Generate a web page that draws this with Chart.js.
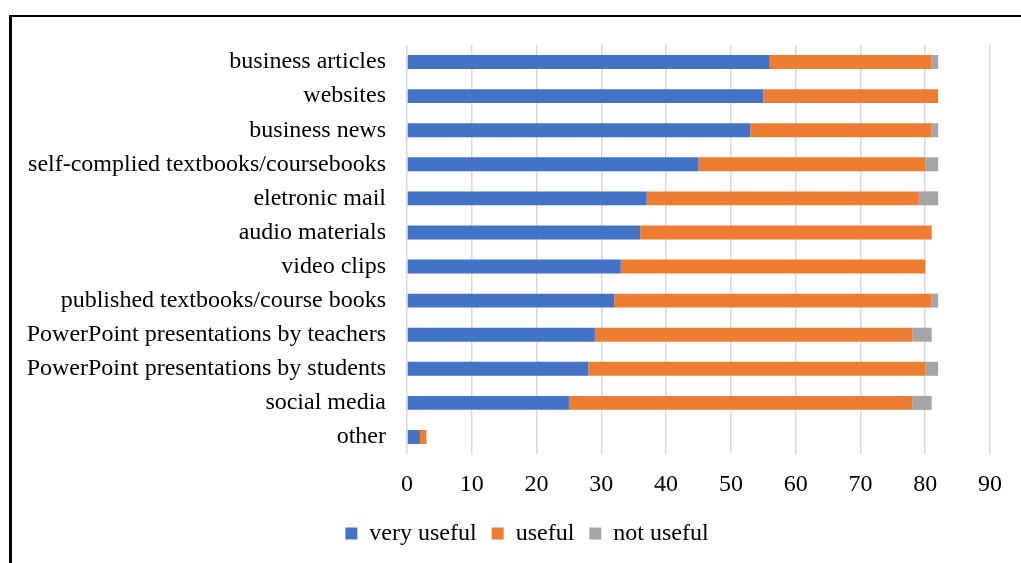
<!DOCTYPE html>
<html>
<head>
<meta charset="utf-8">
<script src="https://cdn.jsdelivr.net/npm/chart.js@4"></script>
<style>
  html, body { margin: 0; padding: 0; background: #fff; }
  #wrap { position: relative; width: 1021px; height: 563px; overflow: hidden; }
  #frame {
    position: absolute; left: 9px; top: 15px; width: 1100px; height: 600px;
    border-left: 3px solid #000; border-top: 2px solid #000;
  }
  #chart-box { position: absolute; left: 0; top: 0; width: 1021px; height: 563px; }
</style>
</head>
<body>
<div id="wrap">
  <div id="frame"></div>
  <div id="chart-box"><canvas id="materials-chart"></canvas></div>
</div>
<script>
// ─── Usefulness of learning materials ──────────────────────────────
const categories = [
  'business articles',
  'websites',
  'business news',
  'self-complied textbooks/coursebooks',
  'eletronic mail',
  'audio materials',
  'video clips',
  'published textbooks/course books',
  'PowerPoint presentations by teachers',
  'PowerPoint presentations by students',
  'social media',
  'other',
];
const veryUseful = [56, 55, 53, 45, 37, 36, 33, 32, 29, 28, 25, 2];
const useful     = [25, 27, 28, 35, 42, 45, 47, 49, 49, 52, 53, 1];
const notUseful  = [1, 0, 1, 2, 3, 0, 0, 1, 3, 2, 3, 0];
const seriesNames = ['very useful', 'useful', 'not useful'];
const xTickMin = 0;
const xTickMax = 90;
const xTickStep = 10;

const FONT = 'Liberation Serif, Times New Roman, serif';

function barSet(label, data, color) {
  return {
    label,
    data,
    backgroundColor: color,
    borderWidth: 0,
    barPercentage: 0.41,
    categoryPercentage: 1,
  };
}

// legend sits a little right of the page centre, under the category labels + bars
const legendShift = {
  id: 'legendShift',
  afterLayout(chart) {
    const lg = chart.legend;
    if (!lg) return;
    lg.left += 32;
    lg.right += 32;
  },
};

const ctx = document.getElementById('materials-chart');

new Chart(ctx, {
  type: 'bar',
  data: {
    labels: categories,
    datasets: [
      barSet(seriesNames[0], veryUseful, '#4472C4'),
      barSet(seriesNames[1], useful, '#ED7D31'),
      barSet(seriesNames[2], notUseful, '#A5A5A5'),
    ],
  },
  plugins: [legendShift],
  options: {
    indexAxis: 'y',
    responsive: true,
    maintainAspectRatio: false,
    animation: false,
    layout: {
      padding: { top: 45, right: 31, bottom: 7.5, left: 0 },
    },
    plugins: {
      legend: {
        position: 'bottom',
        labels: {
          color: '#000',
          boxWidth: 12,
          boxHeight: 12,
          padding: 15,
          font: { family: FONT, size: 24 },
        },
      },
      tooltip: { enabled: false },
    },
    scales: {
      x: {
        stacked: true,
        min: xTickMin,
        max: xTickMax,
        grid: { color: '#d9d9d9', lineWidth: 1.5, drawTicks: false },
        border: { display: false },
        ticks: {
          stepSize: xTickStep,
          color: '#000',
          padding: 16,
          maxRotation: 0,
          font: { family: FONT, size: 24 },
        },
        afterFit: (scale) => { scale.height = 52.5; },
      },
      y: {
        stacked: true,
        grid: { display: false, drawTicks: false },
        border: { display: false },
        ticks: {
          color: '#000',
          padding: 21,
          autoSkip: false,
          font: { family: FONT, size: 24 },
        },
        afterFit: (scale) => { scale.width = 407; },
      },
    },
  },
});
</script>
</body>
</html>
